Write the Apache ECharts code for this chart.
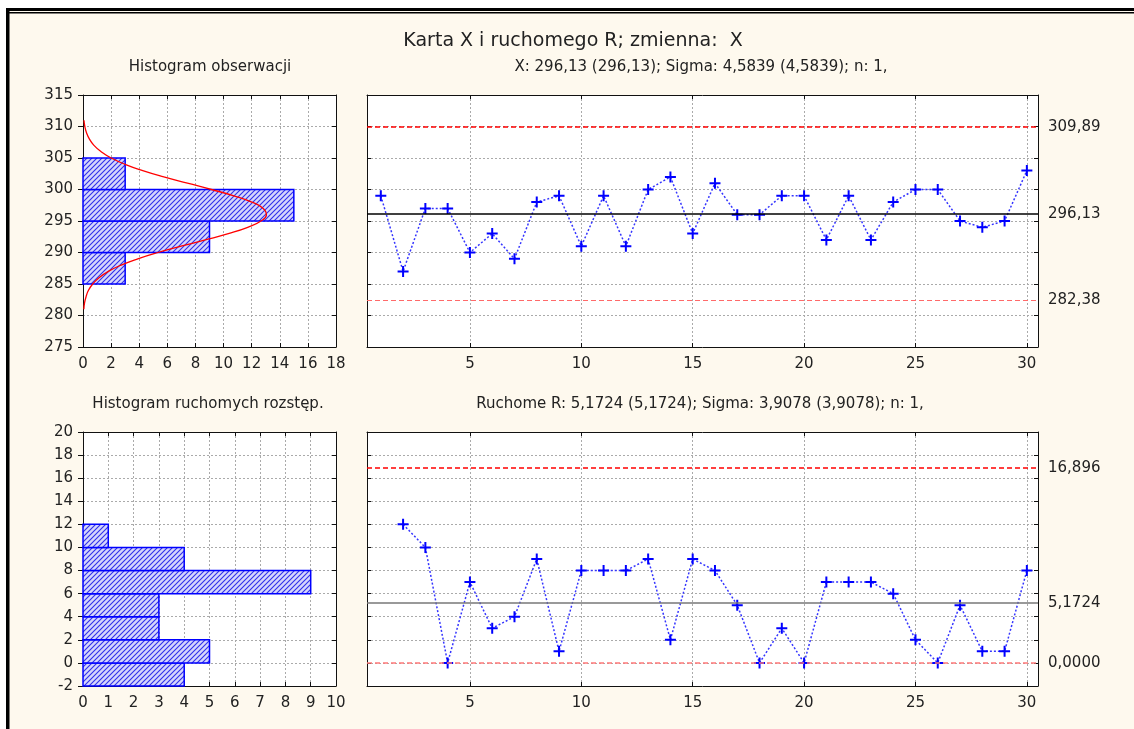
<!DOCTYPE html>
<html>
<head>
<meta charset="utf-8">
<script src="https://cdn.jsdelivr.net/npm/echarts@6/dist/echarts.min.js"></script>
<style>html,body{margin:0;padding:0;background:#fff;}#c{width:1134px;height:729px;}</style>
</head>
<body>
<div id="c"></div>
<script>
// ---------- DATA ----------
const obsIndex = [1,2,3,4,5,6,7,8,9,10,11,12,13,14,15,16,17,18,19,20,21,22,23,24,25,26,27,28,29,30];
const obsValues = [299,287,297,297,290,293,289,298,299,291,299,291,300,302,293,301,296,296,299,299,292,299,292,298,300,300,295,294,295,303];
const mrIndex = [2,3,4,5,6,7,8,9,10,11,12,13,14,15,16,17,18,19,20,21,22,23,24,25,26,27,28,29,30];
const mrValues = [12,10,0,7,3,4,9,1,8,8,8,9,2,9,8,5,0,3,0,7,7,7,6,2,0,5,1,1,8];

const obsBinLo = [285,290,295,300];
const obsBinHi = [290,295,300,305];
const obsCounts = [3,9,15,3];

const mrBinLo = [-2,0,2,4,6,8,10];
const mrBinHi = [0,2,4,6,8,10,12];
const mrCounts = [4,5,3,3,9,4,1];

// fitted normal curve: value -> expected count
const curveValue = [281,282,283,284,285,286,287,288,289,290,291,292,293,294,295,296,297,298,299,300,301,302,303,304,305,306,307,308,309,310,311];
const curveCount = [0.06,0.11,0.22,0.39,0.69,1.14,1.80,2.71,3.90,5.34,6.98,8.70,10.34,11.72,12.66,13.05,12.82,12.01,10.73,9.14,7.43,5.75,4.25,2.99,2.01,1.29,0.78,0.46,0.25,0.13,0.07];

const xLimits = [309.89, 296.13, 282.38];
const xLimitLabels = ['309,89','296,13','282,38'];
const mrLimits = [16.896, 5.1724, 0];
const mrLimitLabels = ['16,896','5,1724','0,0000'];

const xTickValues = [5,10,15,20,25,30];

const mainTitle = 'Karta X i ruchomego R; zmienna:  X';
const subTitles = ['Histogram obserwacji','X: 296,13 (296,13); Sigma: 4,5839 (4,5839); n: 1,',
                   'Histogram ruchomych rozstęp.','Ruchome R: 5,1724 (5,1724); Sigma: 3,9078 (3,9078); n: 1,'];

// ---------- STYLE ----------
const FONT = 'DejaVu Sans';
const TXT = '#222';
const GRID = [
  {left:83, top:95, width:253, height:252},
  {left:367, top:95, width:671, height:252},
  {left:83, top:432, width:253, height:254},
  {left:367, top:432, width:671, height:254}
];

// hatch pattern
const pc = document.createElement('canvas');
pc.width = 5; pc.height = 5;
const g = pc.getContext('2d');
g.fillStyle = '#d6d6fc'; g.fillRect(0,0,5,5);
g.strokeStyle = '#3030ea'; g.lineWidth = 1.1;
g.beginPath();
g.moveTo(-1,6); g.lineTo(6,-1);
g.moveTo(-3.5,3.5); g.lineTo(3.5,-3.5);
g.moveTo(1.5,8.5); g.lineTo(8.5,1.5);
g.stroke();
const hatch = {image: pc, repeat: 'repeat'};

const splitDotted = {show:true, lineStyle:{color:'#aaa', type:[2,2], width:1}};
const axisLineBlk = {show:true, onZero:false, lineStyle:{color:'#111', width:1}};
const lbl = {fontFamily:FONT, fontSize:15, color:TXT};

function xAx(gi, opt, labels){
  const base = {type:'value', gridIndex:gi, position:'bottom', min:opt.min, max:opt.max,
    axisLine:axisLineBlk, splitLine: splitDotted,
    axisTick:{show:true, inside:true, length:4, lineStyle:{color:'#111'}},
    axisLabel: Object.assign({show:labels, margin:10}, lbl)};
  if (opt.interval !== undefined) base.interval = opt.interval;
  if (opt.custom) { base.axisTick.customValues = opt.custom; base.axisLabel.customValues = opt.custom; }
  return base;
}
function xAxTop(gi, opt){
  const a = xAx(gi, opt, false);
  a.position = 'top'; a.splitLine = {show:false};
  return a;
}
function yAx(gi, opt, labels, outward){
  return {type:'value', gridIndex:gi, position:'left', min:opt.min, max:opt.max, interval:opt.interval,
    axisLine:axisLineBlk, splitLine: splitDotted,
    axisTick:{show:true, inside:!outward, length:outward?5:4, lineStyle:{color:'#111'}},
    axisLabel: Object.assign({show:labels, margin:10}, lbl)};
}
function yAxRight(gi, opt){
  const a = yAx(gi, opt, false, false);
  a.position = 'right'; a.splitLine = {show:false};
  return a;
}

const xo = [
  {min:0, max:18, interval:2},
  {min:0.38, max:30.5, custom:xTickValues},
  {min:0, max:10, interval:1},
  {min:0.38, max:30.5, custom:xTickValues}
];
const yo = [
  {min:275, max:315, interval:5},
  {min:275, max:315, interval:5},
  {min:-2, max:20, interval:2},
  {min:-2, max:20, interval:2}
];

const xAxes = [], yAxes = [];
for (let i=0;i<4;i++){
  xAxes.push(xAx(i, xo[i], true));
  xAxes.push(xAxTop(i, xo[i]));
  yAxes.push(yAx(i, yo[i], i===0||i===2, i===0||i===2));
  yAxes.push(yAxRight(i, yo[i]));
}

function histRender(params, api){
  const cnt = api.value(0), lo = api.value(1), hi = api.value(2);
  const p0 = api.coord([0, hi]);
  const p1 = api.coord([cnt, lo]);
  return {type:'rect', shape:{x:p0[0], y:p0[1], width:p1[0]-p0[0], height:p1[1]-p0[1]},
    style:{fill:hatch, stroke:'#0000ff', lineWidth:1.5}};
}

const plus = 'path://M0,5L10,5M5,0L5,10';

function limitLines(vals, labels, styles){
  return {
    silent:true, symbol:['none','none'], animation:false,
    label:{show:true, position:'end', distance:10, fontFamily:FONT, fontSize:15, color:TXT,
      formatter:(p)=>labels[p.dataIndex]},
    data: vals.map((v,i)=>({yAxis:v, lineStyle:styles[i]}))
  };
}

const obsHist = obsCounts.map((c,i)=>[c, obsBinLo[i], obsBinHi[i]]);
const mrHist = mrCounts.map((c,i)=>[c, mrBinLo[i], mrBinHi[i]]);

const option = {
  animation:false,
  backgroundColor:'#fef9ee',
  textStyle:{fontFamily:FONT},
  grid: GRID.map(g=>Object.assign({show:true, backgroundColor:'#ffffff', borderWidth:0}, g)),
  xAxis: xAxes,
  yAxis: yAxes,
  graphic: [
    {type:'rect', shape:{x:0,y:0,width:1134,height:8}, style:{fill:'#fff'}, silent:true},
    {type:'rect', shape:{x:0,y:0,width:6,height:729}, style:{fill:'#fff'}, silent:true},
    {type:'rect', shape:{x:6,y:8,width:1128,height:3}, style:{fill:'#000'}, silent:true},
    {type:'rect', shape:{x:9,y:12,width:1125,height:1.5}, style:{fill:'#000'}, silent:true},
    {type:'rect', shape:{x:6,y:8,width:3.5,height:721}, style:{fill:'#000'}, silent:true},
    {type:'text', x:573, y:41, style:{text:mainTitle, fontFamily:FONT, fontSize:19, fill:TXT, align:'center', verticalAlign:'middle'}},
    {type:'text', x:210, y:67, style:{text:subTitles[0], fontFamily:FONT, fontSize:15, fill:TXT, align:'center', verticalAlign:'middle'}},
    {type:'text', x:701, y:67, style:{text:subTitles[1], fontFamily:FONT, fontSize:15, fill:TXT, align:'center', verticalAlign:'middle'}},
    {type:'text', x:208, y:404, style:{text:subTitles[2], fontFamily:FONT, fontSize:15, fill:TXT, align:'center', verticalAlign:'middle'}},
    {type:'text', x:700, y:404, style:{text:subTitles[3], fontFamily:FONT, fontSize:15, fill:TXT, align:'center', verticalAlign:'middle'}}
  ],
  series: [
    {type:'custom', xAxisIndex:0, yAxisIndex:0, renderItem:histRender, data:obsHist, z:3},
    {type:'line', xAxisIndex:0, yAxisIndex:0, data:curveCount.map((c,i)=>[c, curveValue[i]]),
      symbol:'none', smooth:true, lineStyle:{color:'#ff0000', width:1.3}, z:4},
    {type:'line', xAxisIndex:2, yAxisIndex:2, data:obsIndex.map((x,i)=>[x, obsValues[i]]),
      symbol:plus, symbolSize:11,
      itemStyle:{color:'#0000ff', borderColor:'#0000ff', borderWidth:2},
      lineStyle:{color:'#3535ff', width:1.5, type:[2,2]}, z:3,
      markLine: limitLines(xLimits, xLimitLabels, [
        {color:'#ff0000', type:[5,3], width:1.5},
        {color:'#000000', type:'solid', width:1.5},
        {color:'#ff6a6a', type:[5,3], width:1.2}
      ])},
    {type:'custom', xAxisIndex:4, yAxisIndex:4, renderItem:histRender, data:mrHist, z:3},
    {type:'line', xAxisIndex:6, yAxisIndex:6, data:mrIndex.map((x,i)=>[x, mrValues[i]]),
      symbol:plus, symbolSize:11,
      itemStyle:{color:'#0000ff', borderColor:'#0000ff', borderWidth:2},
      lineStyle:{color:'#3535ff', width:1.5, type:[2,2]}, z:3,
      markLine: limitLines(mrLimits, mrLimitLabels, [
        {color:'#ff0000', type:[5,3], width:1.5},
        {color:'#777777', type:'solid', width:1.5},
        {color:'#ff7a7a', type:[5,3], width:1.5}
      ])}
  ]
};

const chart = echarts.init(document.getElementById('c'), null, {renderer:'canvas'});
chart.setOption(option);
</script>
</body>
</html>
